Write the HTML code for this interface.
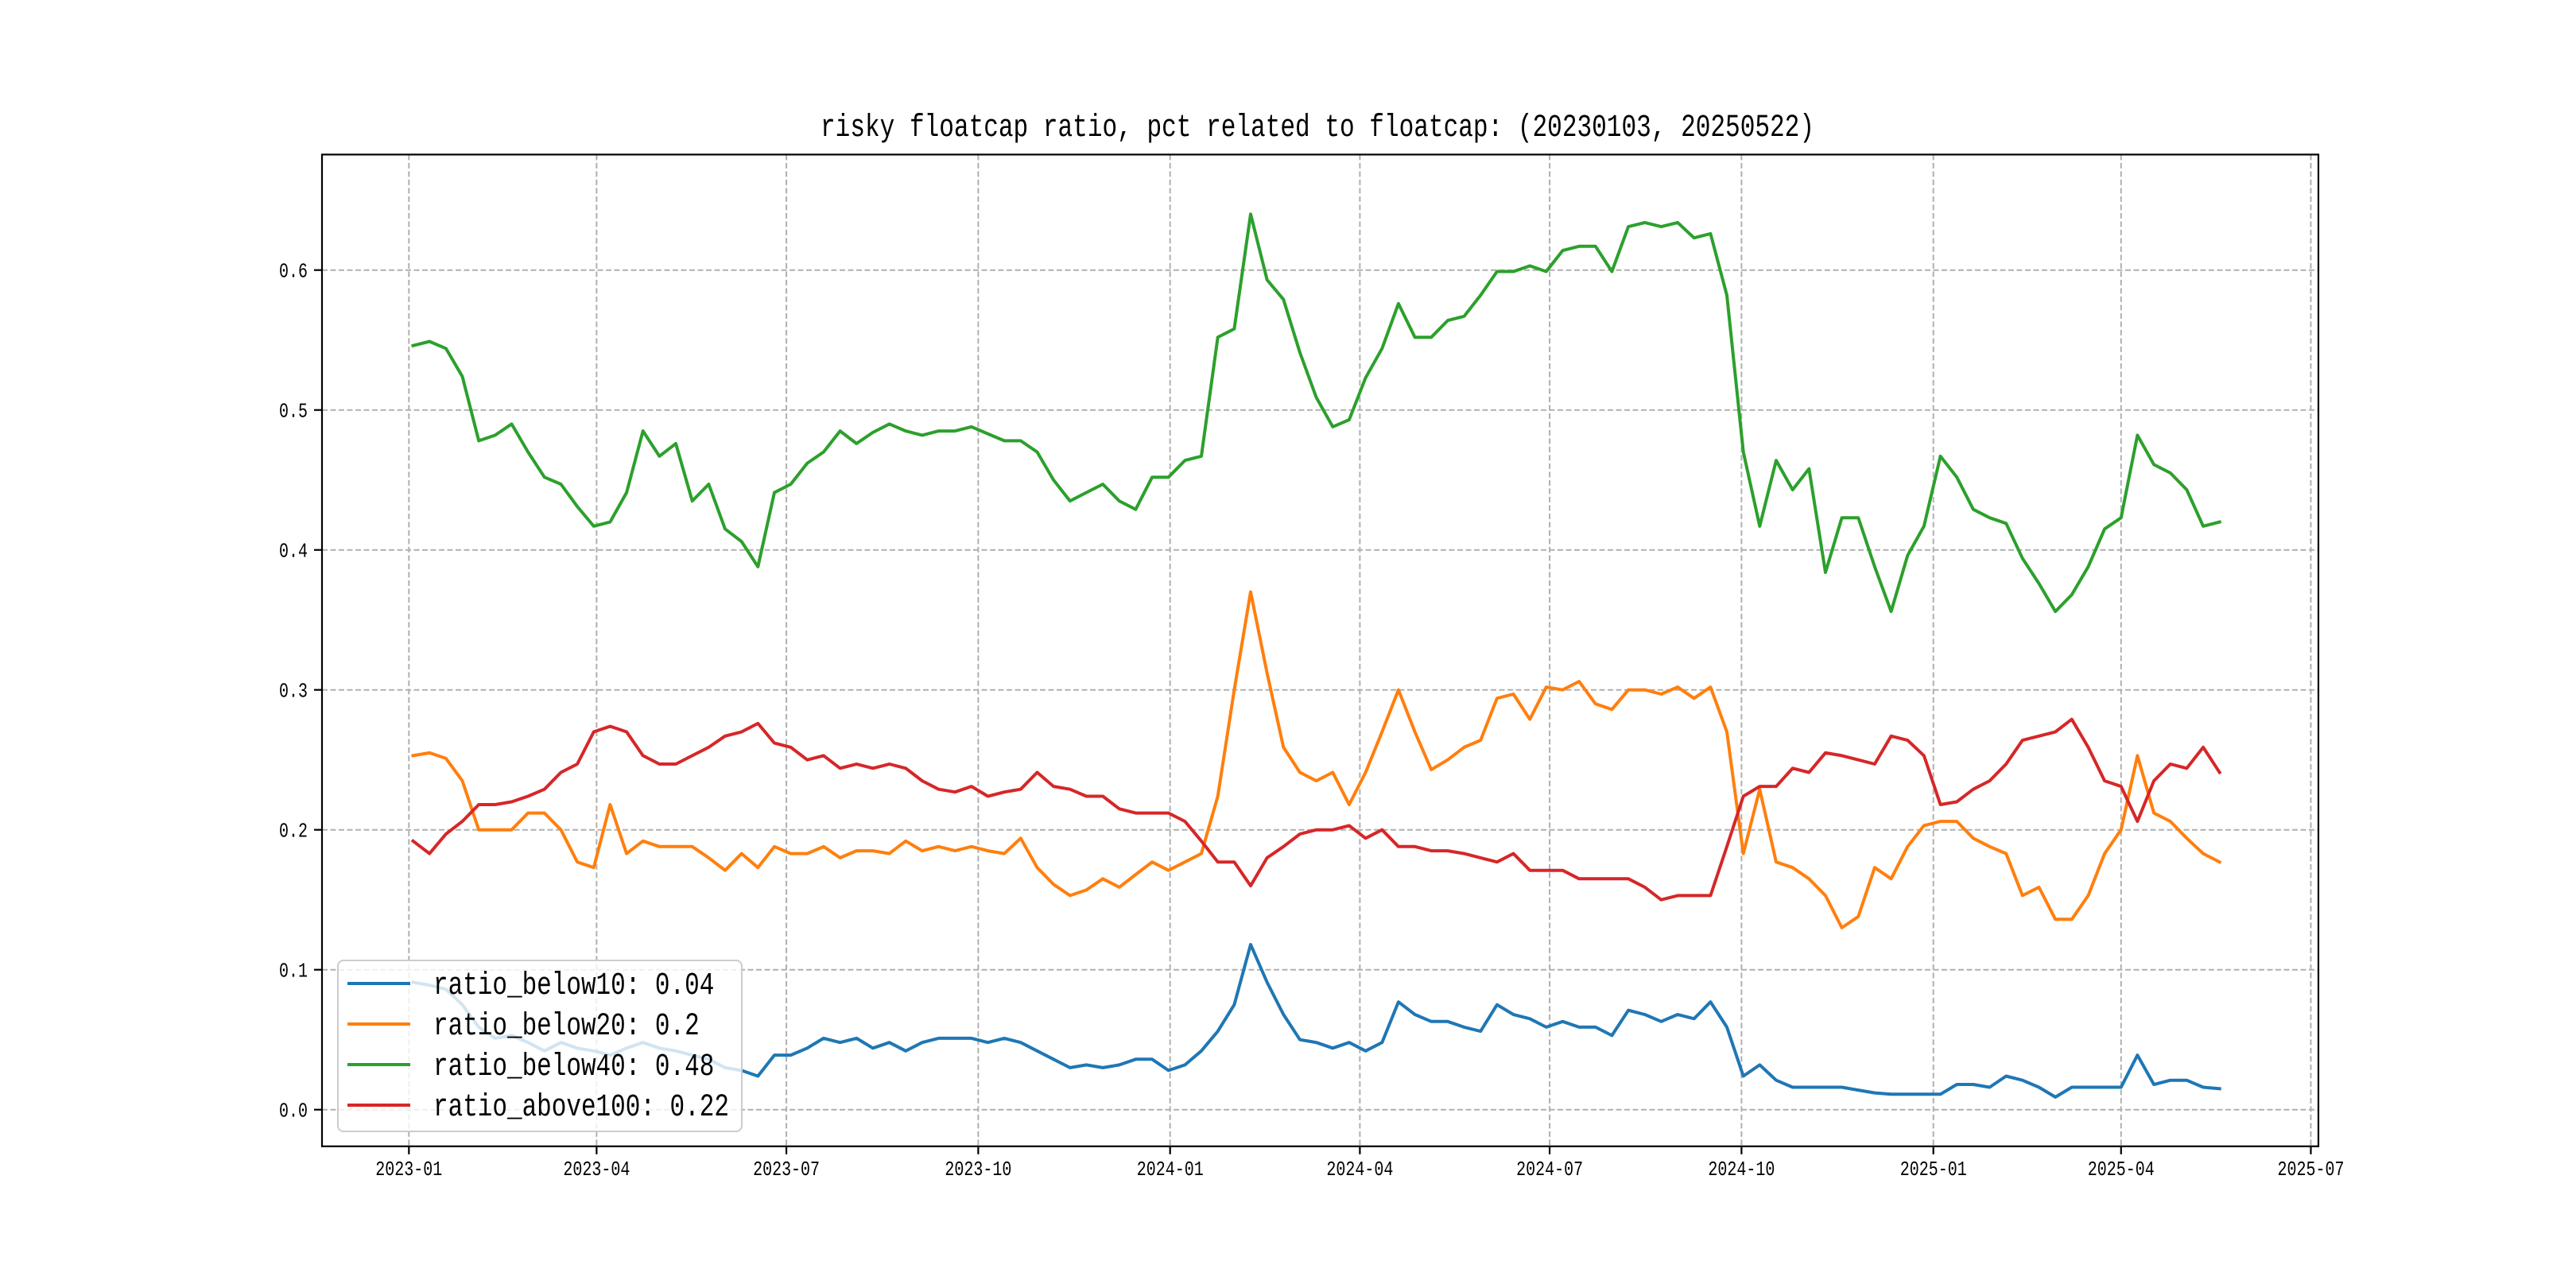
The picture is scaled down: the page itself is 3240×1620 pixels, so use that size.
<!DOCTYPE html>
<html>
<head>
<meta charset="utf-8">
<style>
  html,body{margin:0;padding:0;background:#fff;}
  svg{display:block;}
  text{font-family:"Liberation Mono","Noto Sans CJK SC",monospace;fill:#000;}
</style>
</head>
<body>
<svg id="chart" width="3240" height="1620" viewBox="0 0 3240 1620" xmlns="http://www.w3.org/2000/svg">
  <rect x="0" y="0" width="3240" height="1620" fill="#fff"/>
  <g id="grid"></g>
  <g id="series"></g>
  <rect x="405" y="194.4" width="2511" height="1247.4" fill="none" stroke="#000" stroke-width="2.2"/>
  <g id="ticks"></g>
  <text transform="translate(1657,171) scale(1,1.3)" text-anchor="middle" font-size="31" textLength="1250" lengthAdjust="spacingAndGlyphs">risky floatcap ratio, pct related to floatcap: (20230103, 20250522)</text>
  <g id="legend"></g>
</svg>
<script>
// ---- data (sampled every stepDays from 2023-01-03) ----
const startDate = '2023-01-03';
const stepDays = 7.875;
const seriesNames = ['ratio_below10', 'ratio_below20', 'ratio_below40', 'ratio_above100'];
const legendValues = ['0.04', '0.2', '0.48', '0.22'];
const yTickValues = [0.0, 0.1, 0.2, 0.3, 0.4, 0.5, 0.6];
const yTickLabels = ['0.0', '0.1', '0.2', '0.3', '0.4', '0.5', '0.6'];
const xTickLabels = ['2023-01','2023-04','2023-07','2023-10','2024-01','2024-04','2024-07','2024-10','2025-01','2025-04','2025-07'];

const below10 = [.091,.089,.086,.075,.059,.051,.053,.048,.042,.048,.044,.042,.039,.044,.048,.044,.042,.039,.036,.030,.028,.024,.039,.039,.044,.051,.048,.051,.044,.048,.042,.048,.051,.051,.051,.048,.051,.048,.042,.036,.030,.032,.030,.032,.036,.036,.028,.032,.042,.056,.075,.118,.091,.068,.050,.048,.044,.048,.042,.048,.077,.068,.063,.063,.059,.056,.075,.068,.065,.059,.063,.059,.059,.053,.071,.068,.063,.068,.065,.077,.059,.024,.032,.021,.016,.016,.016,.016,.014,.012,.011,.011,.011,.011,.018,.018,.016,.024,.021,.016,.009,.016,.016,.016,.016,.039,.018,.021,.021,.016,.015];
const below20 = [.253,.255,.251,.235,.200,.200,.200,.212,.212,.200,.177,.173,.218,.183,.192,.188,.188,.188,.180,.171,.183,.173,.188,.183,.183,.188,.180,.185,.185,.183,.192,.185,.188,.185,.188,.185,.183,.194,.173,.161,.153,.157,.165,.159,.168,.177,.171,.177,.183,.224,.300,.370,.312,.259,.241,.235,.241,.218,.241,.270,.300,.270,.243,.250,.259,.264,.294,.297,.279,.302,.300,.306,.290,.286,.300,.300,.297,.302,.294,.302,.270,.183,.229,.177,.173,.165,.153,.130,.138,.173,.165,.188,.203,.206,.206,.194,.188,.183,.153,.159,.136,.136,.153,.183,.200,.253,.212,.206,.194,.183,.177];
const below40 = [.546,.549,.544,.524,.478,.482,.490,.470,.452,.447,.431,.417,.420,.441,.485,.467,.476,.435,.447,.415,.406,.388,.441,.447,.462,.470,.485,.476,.484,.490,.485,.482,.485,.485,.488,.483,.478,.478,.470,.450,.435,.441,.447,.435,.429,.452,.452,.464,.467,.552,.558,.640,.593,.579,.541,.509,.488,.493,.523,.544,.576,.552,.552,.564,.567,.582,.599,.599,.603,.599,.614,.617,.617,.599,.631,.634,.631,.634,.623,.626,.582,.470,.417,.464,.443,.458,.384,.423,.423,.388,.356,.396,.417,.467,.452,.429,.423,.419,.394,.376,.356,.368,.388,.415,.423,.482,.461,.455,.443,.417,.420];
const above100 = [.192,.183,.197,.206,.218,.218,.220,.224,.229,.241,.247,.270,.274,.270,.253,.247,.247,.253,.259,.267,.270,.276,.262,.259,.250,.253,.244,.247,.244,.247,.244,.235,.229,.227,.231,.224,.227,.229,.241,.231,.229,.224,.224,.215,.212,.212,.212,.206,.192,.177,.177,.160,.180,.188,.197,.200,.200,.203,.194,.200,.188,.188,.185,.185,.183,.180,.177,.183,.171,.171,.171,.165,.165,.165,.165,.159,.150,.153,.153,.153,.188,.224,.231,.231,.244,.241,.255,.253,.250,.247,.267,.264,.253,.218,.220,.229,.235,.247,.264,.267,.270,.279,.259,.235,.231,.206,.235,.247,.244,.259,.241];
const seriesColors = ['#1f77b4', '#ff7f0e', '#2ca02c', '#d62728'];

// ---- axes ----
const NS = 'http://www.w3.org/2000/svg';
const X0 = 514.3, PX_PER_DAY = 2.623, Y0 = 1395.7, PX_PER_UNIT = 1760;
const AX_L = 405, AX_R = 2916, AX_T = 194.4, AX_B = 1441.8;
const EPOCH = Date.UTC(2023, 0, 1);
function dayOf(str){ const p = str.split('-').map(Number); return (Date.UTC(p[0], p[1]-1, p[2]||1) - EPOCH)/86400000; }
function xScale(day){ return X0 + day*PX_PER_DAY; }
function yScale(v){ return Y0 - v*PX_PER_UNIT; }
function mk(tag, attrs){ const e = document.createElementNS(NS, tag); for (const k in attrs) e.setAttribute(k, attrs[k]); return e; }

const grid = document.getElementById('grid');
const ticks = document.getElementById('ticks');

yTickValues.forEach((v, i) => {
  const y = yScale(v);
  const g = mk('line', {x1: AX_L, x2: AX_R, y1: y, y2: y, stroke: '#b0b0b0', 'stroke-width': 2, 'stroke-dasharray': '7,3.5'});
  
  
  grid.appendChild(g);
  const t = mk('line', {x1: AX_L - 10, x2: AX_L, y1: y, y2: y, stroke: '#000', 'stroke-width': 2.2});
  
  
  ticks.appendChild(t);
  const lb = mk('text', {transform: `translate(${AX_L - 18},${y + 9}) scale(1,1.3)`, 'text-anchor': 'end', 'font-size': 20});
  lb.textContent = yTickLabels[i];
  
  
  ticks.appendChild(lb);
});

xTickLabels.forEach(lbl => {
  const x = xScale(dayOf(lbl + '-01'));
  const g = mk('line', {x1: x, x2: x, y1: AX_T, y2: AX_B, stroke: '#b0b0b0', 'stroke-width': 2, 'stroke-dasharray': '7,3.5'});
  
  
  grid.appendChild(g);
  const t = mk('line', {x1: x, x2: x, y1: AX_B, y2: AX_B + 10, stroke: '#000', 'stroke-width': 2.2});
  
  
  ticks.appendChild(t);
  const lb = mk('text', {transform: `translate(${x},${AX_B + 36}) scale(1,1.3)`, 'text-anchor': 'middle', 'font-size': 20});
  lb.textContent = lbl;
  
  
  ticks.appendChild(lb);
});

// ---- series ----
const seriesData = [below10, below20, below40, above100];
const startDay = dayOf(startDate);
const seriesG = document.getElementById('series');
seriesData.forEach((vals, si) => {
  const pts = vals.map((v, i) => xScale(startDay + i*stepDays).toFixed(1) + ',' + yScale(v).toFixed(1)).join(' ');
  const pl = mk('polyline', {points: pts, fill: 'none', stroke: seriesColors[si], 'stroke-width': 4, 'stroke-linejoin': 'round', 'stroke-linecap': 'square'});
  
  
  seriesG.appendChild(pl);
});

// ---- legend ----
const legend = document.getElementById('legend');
const box = mk('rect', {x: 425, y: 1208, width: 508, height: 215, rx: 7, fill: '#fff', 'fill-opacity': 0.8, stroke: '#cccccc', 'stroke-width': 2});


legend.appendChild(box);
seriesNames.forEach((nm, i) => {
  const y = 1237 + i*51;
  const ln = mk('line', {x1: 437, x2: 516, y1: y, y2: y, stroke: seriesColors[i], 'stroke-width': 4});
  
  
  legend.appendChild(ln);
  const tx = mk('text', {transform: `translate(545,${y + 13}) scale(1,1.3)`, 'font-size': 31});
  tx.textContent = nm + ': ' + legendValues[i];
  
  
  legend.appendChild(tx);
});
</script>
</body>
</html>
